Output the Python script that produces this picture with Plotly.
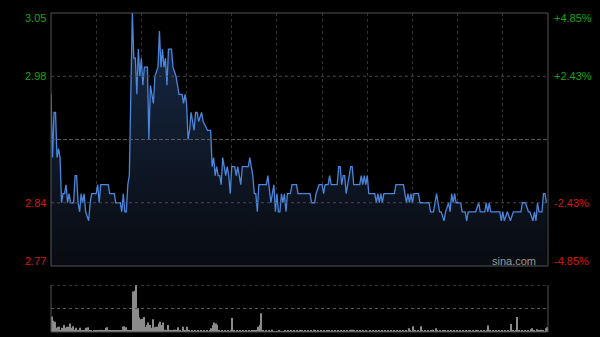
import plotly.graph_objects as go

# ---- data ----
price_min = [0,1,2,3,4,5,6,7,8,9,10,11,12,13,15,16,17,18,19,20,21,22,23,25,26,27,30,31,32,33,38,39,42,43,46,47,48,49,50,51,52,54,
             55,56,57,58,59,60,61,62,64,65,66,68,69,71,72,73,74,75,76,77,78,80,81,83,85,87,88,89,90,91,92,93,95,96,97,98,100,101,104,106,
             107,108,109,110,111,112,113,114,115,116,117,118,119,120,122,123,124,125,126,127,131,132,133,134,135,136,137,138,141,143,144,145,
             146,147,148,149,150,151,152,153,154,155,156,157,159,160,163,164,172,173,175,176,178,180,181,182,184,185,186,190,191,192,193,194,
             195,196,197,199,200,201,205,206,207,208,209,210,211,215,216,217,218,219,220,221,228,229,234,235,236,237,238,239,240,241,244,245,
             251,252,254,256,258,259,261,262,264,265,266,267,268,269,272,273,275,276,277,282,284,285,288,289,290,291,292,298,299,300,301,303,
             305,307,312,313,315,317,318,320,321,322,323,324,326,327,328,329]
price_val = [2.96,2.89,2.94,2.94,2.89,2.90,2.89,2.84,2.85,2.85,2.86,2.84,2.85,2.84,2.84,2.87,2.87,2.84,2.83,2.85,2.84,2.85,2.83,2.82,2.84,2.85,2.85,2.86,2.84,2.86,2.86,2.85,2.85,2.84,2.84,2.83,2.85,2.83,2.83,2.86,2.87,3.05,
             3.00,3.00,2.96,3.01,2.98,3.00,2.97,2.99,2.99,2.91,2.97,2.95,2.98,2.99,3.03,2.99,3.01,2.99,3.00,2.97,3.01,3.01,2.99,2.98,2.96,2.96,2.95,2.96,2.95,2.91,2.92,2.94,2.92,2.94,2.94,2.93,2.94,2.93,2.92,2.92,
             2.88,2.89,2.87,2.88,2.87,2.87,2.86,2.89,2.88,2.87,2.88,2.87,2.85,2.88,2.88,2.87,2.88,2.87,2.86,2.88,2.88,2.89,2.88,2.87,2.85,2.85,2.83,2.86,2.86,2.86,2.87,2.85,
             2.84,2.85,2.86,2.83,2.85,2.83,2.83,2.85,2.84,2.85,2.83,2.85,2.85,2.86,2.86,2.85,2.85,2.84,2.84,2.85,2.86,2.86,2.85,2.86,2.86,2.87,2.86,2.86,2.88,2.88,2.86,2.87,
             2.87,2.85,2.86,2.88,2.88,2.86,2.86,2.87,2.86,2.87,2.86,2.87,2.85,2.85,2.84,2.85,2.84,2.85,2.84,2.85,2.85,2.86,2.86,2.85,2.84,2.85,2.84,2.85,2.84,2.85,2.85,2.84,
             2.84,2.83,2.83,2.85,2.83,2.83,2.82,2.83,2.84,2.83,2.85,2.84,2.85,2.84,2.84,2.83,2.83,2.82,2.83,2.83,2.84,2.83,2.83,2.84,2.83,2.84,2.83,2.83,2.82,2.83,2.82,2.83,
             2.82,2.83,2.83,2.84,2.84,2.83,2.83,2.82,2.83,2.82,2.84,2.83,2.83,2.85,2.85,2.84]

volume = [33,24,22,9,11,11,4,9,15,9, 11,11,18,9,12,5,9,4,5,9, 3,3,5,9,10,3,3,2,3,3, 3,4,3,5,3,4,9,10,3,4,
          3,4,3,4,3,3,4,11,12,10, 5,3,4,3,86,88,100,51,31,27, 28,32,11,15,20,15,9,27,10,11, 11,18,22,15,20,5,3,15,5,3,
          4,5,5,4,10,3,2,11,3,3, 11,3,2,3,2,3,2,3,2,3, 2,3,2,3,2,3,8,15,20,18, 15,3,2,3,2,3,2,3,2,3,
          30,3,2,3,2,3,2,3,2,3, 2,3,2,3,3,3,5,11,15,40, 4,2,3,2,3,2,5,2,2,2, 2,4,2,2,2,4,2,3,2,3,
          2,3,2,3,2,3,3,2,3,2, 3,2,3,2,5,3,2,3,2,3, 2,3,2,3,4,2,3,2,3,2, 3,2,4,2,3,2,3,2,3,5,
          5,3,2,3,2,3,2,3,2,3, 2,3,2,3,2,3,2,3,2,3, 2,4,2,3,2,3,2,3,2,3, 2,3,2,3,2,3,2,8,3,2,
          12,3,2,3,2,12,3,2,3,2, 3,2,3,5,2,8,3,2,3,2, 3,4,2,3,2,3,2,3,2,3, 2,3,2,3,2,3,2,3,4,2,
          3,2,3,4,2,3,2,3,2,3, 14,3,2,3,2,3,2,3,2,3, 2,3,2,3,2,17,3,2,3,32, 3,2,3,2,3,2,3,2,6,8,
          3,2,6,3,3,5,3,2,8,10]
vol_min = list(range(len(volume)))

left_ticks = [3.05, 2.98, 2.84, 2.77]
right_ticks = ["+4.85%", "+2.43%", "-2.43%", "-4.85%"]
prev_close = 2.91
y_lo, y_hi = 2.77, 3.05
x_span = 330

fig = go.Figure()
fig.add_trace(go.Scatter(
    x=price_min, y=price_val, mode="lines",
    line=dict(color="#4a86dc", width=1.3),
    fill="tozeroy",
    fillgradient=dict(type="vertical", start=y_lo, stop=y_hi,
                      colorscale=[[0, "rgb(8,11,16)"], [1, "rgb(24,42,72)"]]),
    hoverinfo="skip", showlegend=False, xaxis="x", yaxis="y"))
fig.add_trace(go.Bar(
    x=vol_min, y=volume, marker=dict(color="#8a8a8a", line=dict(width=0)),
    hoverinfo="skip", showlegend=False, xaxis="x2", yaxis="y2"))

H = 337 - 13 - 5
main_lo = (332 - 266) / H
vol_hi = (332 - 285) / H

fig.update_layout(
    width=600, height=337,
    margin=dict(l=51, r=52, t=13, b=5),
    paper_bgcolor="#000000", plot_bgcolor="#000000",
    bargap=0.3,
    xaxis=dict(domain=[0, 1], range=[0, x_span], showticklabels=False, zeroline=False,
               showgrid=True, tick0=0, dtick=30, griddash="dot", gridcolor="#333333", gridwidth=1,
               ticks="", showline=False, fixedrange=True),
    yaxis=dict(domain=[main_lo, 1], range=[y_lo, y_hi], showticklabels=False, zeroline=False,
               showgrid=False, showline=False, fixedrange=True),
    xaxis2=dict(domain=[0, 1], range=[-0.5, x_span - 0.5], anchor="y2", showticklabels=False,
                zeroline=False, showgrid=False, showline=False, fixedrange=True),
    yaxis2=dict(domain=[0, vol_hi], range=[0, 100], anchor="x2", showticklabels=False,
                zeroline=False, showgrid=False, showline=False, fixedrange=True),
)

shapes = []
for v in [2.98, 2.84]:
    shapes.append(dict(type="line", xref="paper", yref="y", x0=0, x1=1, y0=v, y1=v,
                       line=dict(color="#4a4a4a", width=1, dash="dot")))
shapes.append(dict(type="line", xref="paper", yref="y", x0=0, x1=1, y0=prev_close, y1=prev_close,
                   line=dict(color="#5a5a5a", width=1, dash="4px,2px")))
shapes.append(dict(type="rect", xref="paper", yref="paper", x0=0, x1=1, y0=main_lo, y1=1,
                   line=dict(color="#555555", width=1)))
shapes.append(dict(type="line", xref="paper", yref="y2", x0=0, x1=1, y0=100, y1=100,
                   line=dict(color="#5a5a5a", width=1, dash="dot")))
shapes.append(dict(type="line", xref="paper", yref="y2", x0=0, x1=1, y0=50, y1=50,
                   line=dict(color="#5a5a5a", width=1, dash="dot")))
for xp in [0, 1]:
    shapes.append(dict(type="line", xref="paper", yref="paper", x0=xp, x1=xp, y0=0, y1=vol_hi,
                       line=dict(color="#555555", width=1)))
shapes.append(dict(type="line", xref="paper", yref="paper", x0=0, x1=1, y0=0, y1=0,
                   line=dict(color="#444444", width=1)))
fig.update_layout(shapes=shapes)

green, red = "#17a317", "#d4190f"
font = "Arial, Liberation Sans, sans-serif"
ann = []
yshift = [-5, 0, 0, 5]
for i, v in enumerate(left_ticks):
    col = green if v > prev_close else red
    ann.append(dict(x=0, xref="paper", y=v, yref="y", xanchor="right", yanchor="middle",
                    xshift=-3, yshift=yshift[i], text=f"{v:.2f}", showarrow=False,
                    font=dict(family=font, size=11, color=col)))
    ann.append(dict(x=1, xref="paper", y=v, yref="y", xanchor="left", yanchor="middle",
                    xshift=4, yshift=yshift[i], text=right_ticks[i], showarrow=False,
                    font=dict(family=font, size=11, color=col)))
ann.append(dict(x=1, xref="paper", y=y_lo, yref="y", xanchor="right", yanchor="middle",
                xshift=-10, yshift=5, text="sina.com", showarrow=False,
                font=dict(family=font, size=11, color="#9a9a9a")))
fig.update_layout(annotations=ann)

fig.write_html("out.html")
